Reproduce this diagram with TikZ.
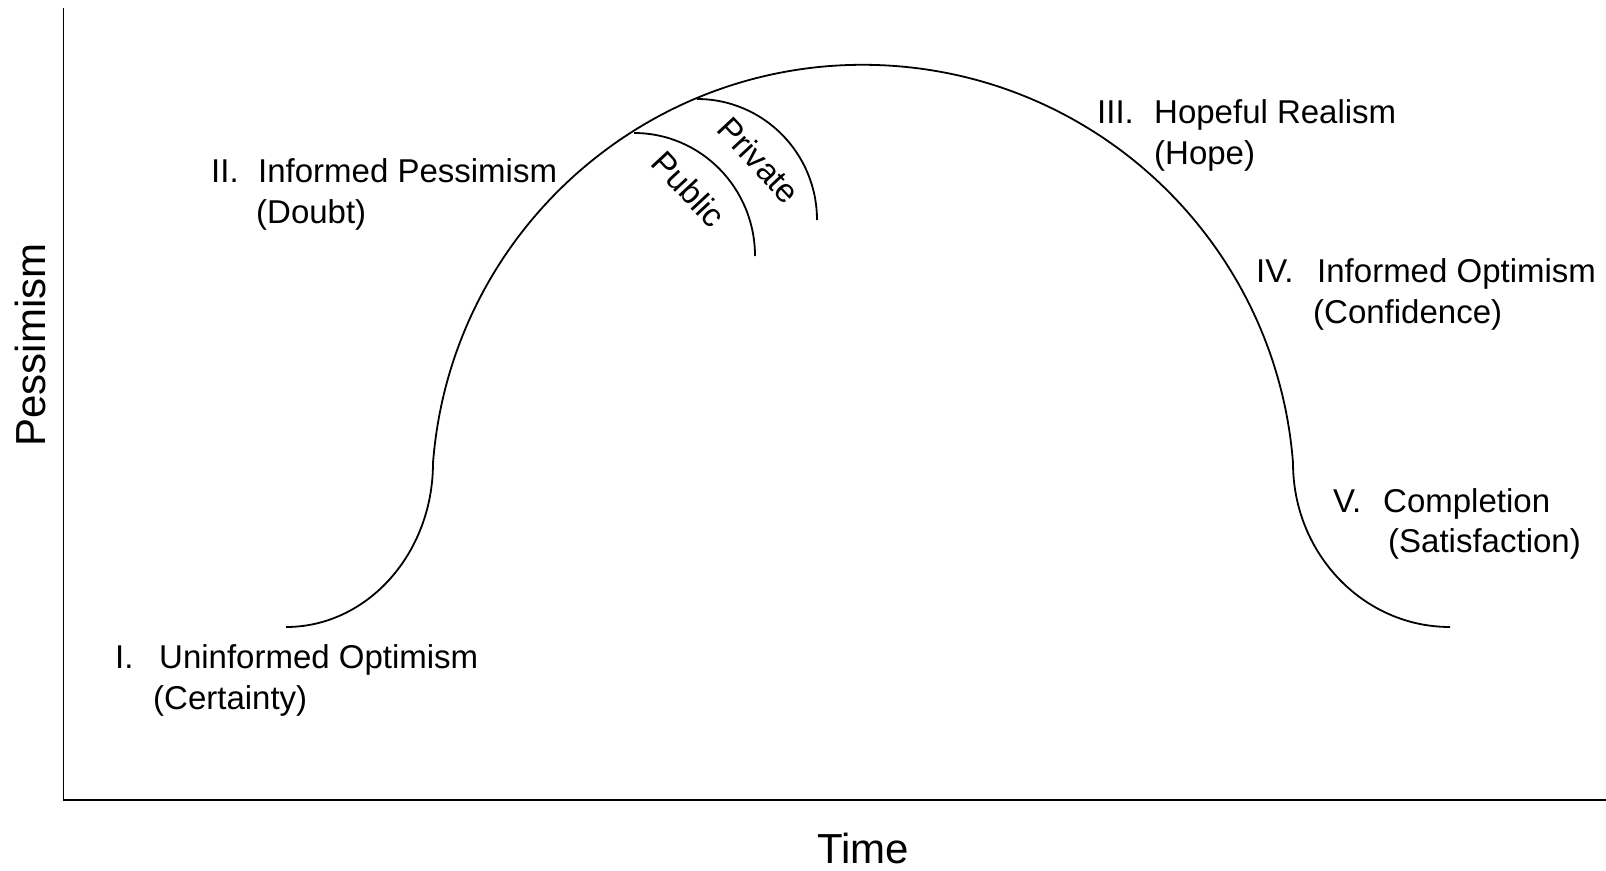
\documentclass[tikz,border=0pt]{standalone}
\usepackage{fontspec}
\setmainfont{Liberation Sans}
\begin{document}
\begin{tikzpicture}[x=1pt,y=1pt,
  curve/.style={line width=1.8pt, line join=round},
  axisline/.style={line width=1.8pt},
  lbl/.style={font=\fontsize{33}{40}\selectfont, inner sep=0pt, anchor=base west},
  arclbl/.style={font=\fontsize{33}{40}\selectfont, inner sep=0pt, rotate=-47},
  axlbl/.style={font=\fontsize{42}{50}\selectfont, inner sep=0pt, anchor=base}]
\useasboundingbox (0,0) rectangle (1606,-870);
% axes
\coordinate (top) at (63.5,-8);
\coordinate (origin) at (63.5,-800);
\coordinate (right) at (1606,-800);
\draw[axisline] (top) -- (origin) -- (right);
\node[axlbl, rotate=90] (ylab) at (45,-345) {Pessimism};
\node[axlbl] (xlab) at (863,-863) {Time};
% main curve
\coordinate (start) at (286,-627);
\draw[curve] (start) arc[start angle=270, end angle=360, x radius=147pt, y radius=164pt]
  coordinate (joinL)
  arc[start angle=175.6, end angle=4.4, radius=431.3pt] coordinate (joinR);
\draw[curve] (joinR) arc[start angle=180, end angle=270, x radius=157pt, y radius=164pt] coordinate (finish);
% public / private arcs
\coordinate (pubS) at (634,-133);
\coordinate (privS) at (697,-99);
\draw[curve] (pubS) arc[start angle=90, end angle=0, x radius=121pt, y radius=123pt];
\draw[curve] (privS) arc[start angle=90, end angle=0, x radius=120pt, y radius=121pt];
\node[arclbl] (public) at (689,-189) {Public};
\node[arclbl] (private) at (759,-160) {Private};
% labels
\node[lbl] (n1) at (115,-668) {I.};
\node[lbl] (t1) at (159,-668) {Uninformed Optimism};
\node[lbl] (s1) at (153,-709) {(Certainty)};
\node[lbl] (n2) at (211,-182) {II.};
\node[lbl] (t2) at (258,-182) {Informed Pessimism};
\node[lbl] (s2) at (256,-223) {(Doubt)};
\node[lbl] (n3) at (1097,-123) {III.};
\node[lbl] (t3) at (1154,-123) {Hopeful Realism};
\node[lbl] (s3) at (1154,-164) {(Hope)};
\node[lbl] (n4) at (1256,-282) {IV.};
\node[lbl] (t4) at (1317,-282) {Informed Optimism};
\node[lbl] (s4) at (1313,-323) {(Confidence)};
\node[lbl] (n5) at (1333,-512) {V.};
\node[lbl] (t5) at (1383,-512) {Completion};
\node[lbl] (s5) at (1388,-552) {(Satisfaction)};
\end{tikzpicture}
\end{document}
